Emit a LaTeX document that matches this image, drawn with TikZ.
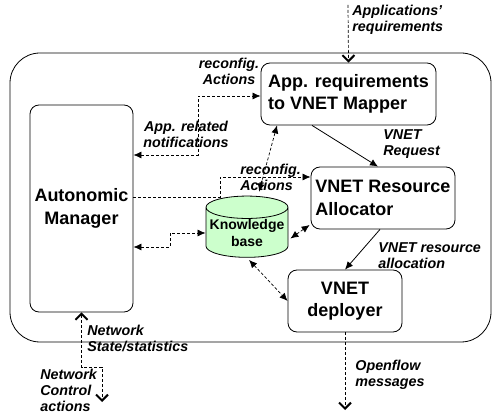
\documentclass[tikz,border=0pt]{standalone}
\usepackage{fontspec}
\setsansfont{Liberation Sans}
\usetikzlibrary{arrows.meta,shapes.geometric}
\definecolor{kbgreen}{HTML}{CCFFCC}

\begin{document}
\begin{tikzpicture}[x=1pt, y=-1pt, line width=0.8pt,
  box/.style={draw, rounded corners=9pt, inner sep=0pt,
    font=\sffamily\bfseries\fontsize{18}{22.5}\selectfont},
  kbs/.style={cylinder, shape border rotate=90, draw, fill=kbgreen, aspect=0.3,
    minimum width=82pt, minimum height=51pt, inner sep=0pt, align=center,
    font=\sffamily\bfseries\fontsize{14}{17}\selectfont},
  lbl/.style={inner sep=0pt, align=left,
    font=\sffamily\bfseries\itshape\fontsize{14.3}{16}\selectfont},
  dl/.style={dash pattern=on 3pt off 2pt, line width=0.7pt},
  tri/.tip={Latex[length=8pt,width=7pt]},
  chev/.tip={Straight Barb[length=6pt,width=12pt,line width=2pt]}]
\useasboundingbox (0,0) rectangle (493,414);
\draw[rounded corners=30pt] (10,53) rectangle (491,342);

\node[box, minimum width=103pt, minimum height=207pt, align=center] (am) at (81.5,208.5) {Autonomic\\Manager};
\node[box, minimum width=175pt, minimum height=62pt, align=left] (map) at (348.5,94) {App. requirements\\to VNET Mapper};
\node[box, minimum width=144pt, minimum height=62pt, align=left] (alloc) at (383,198) {VNET Resource\\Allocator};
\node[kbs] (kb) at (247,232.5) {Knowledge\\base};
\node[box, minimum width=114pt, minimum height=62pt, align=center] (dep) at (345,301) {VNET\\deployer};

\coordinate (appin) at (348,5);
\coordinate (ofout) at (345,410);
\coordinate (ncout) at (102,402);

% management links
\draw[dl, -chev] (appin) -- (map.north);
\draw[dl, tri-tri] (am.east |- 0,155) -| (198,96) -- (map.west |- 0,96);
\draw[dl, -tri] (am.east |- 0,197) -| (220,177) -- (alloc.west |- 0,177);
\draw[dl, tri-tri] (am.east |- 0,247) -| (170,233) -- (kb.west |- 0,233);
\draw[dl, tri-tri, shorten <=4pt] ([xshift=11pt]kb.north) -- ([xshift=-71.5pt]map.south);
\draw[dl, tri-tri] ([shift={(2,6)}]kb.east) -- ([shift={(-1,27)}]alloc.west);
\draw[dl, tri-tri, shorten <=3pt] (kb.south) -- (dep.west);

% main flow
\draw[-tri] ([xshift=-36.5pt]map.south) -- ([xshift=-5pt]alloc.north);
\draw[-tri] ([xshift=-3pt]alloc.south) -- (dep.north);
\draw[dl, -chev] (dep.south) -- (ofout);
\draw[dl, chev-chev] (am.south) -- (81.5,367) -| (ncout);

\node[lbl, anchor=west] (lapp) at (352,20) {Applications'\\requirements};
\node[lbl, align=center] (lrec) at (229,71) {reconfig.\\Actions};
\node[lbl, align=center] (lnot) at (186,134.5) {App. related\\notifications};
\node[lbl, anchor=west] (lrec2) at (240,177) {reconfig.\\Actions};
\node[lbl, anchor=west] (lreq) at (383,144.5) {VNET\\Request};
\node[lbl, anchor=west] (lres) at (378,255.5) {VNET resource\\allocation};
\node[lbl, anchor=west] (lstat) at (87,338) {Network\\State/statistics};
\node[lbl, anchor=west] (lctl) at (40,390) {Network\\Control\\actions};
\node[lbl, anchor=west] (lof) at (355,375) {Openflow\\messages};
\end{tikzpicture}
\end{document}
